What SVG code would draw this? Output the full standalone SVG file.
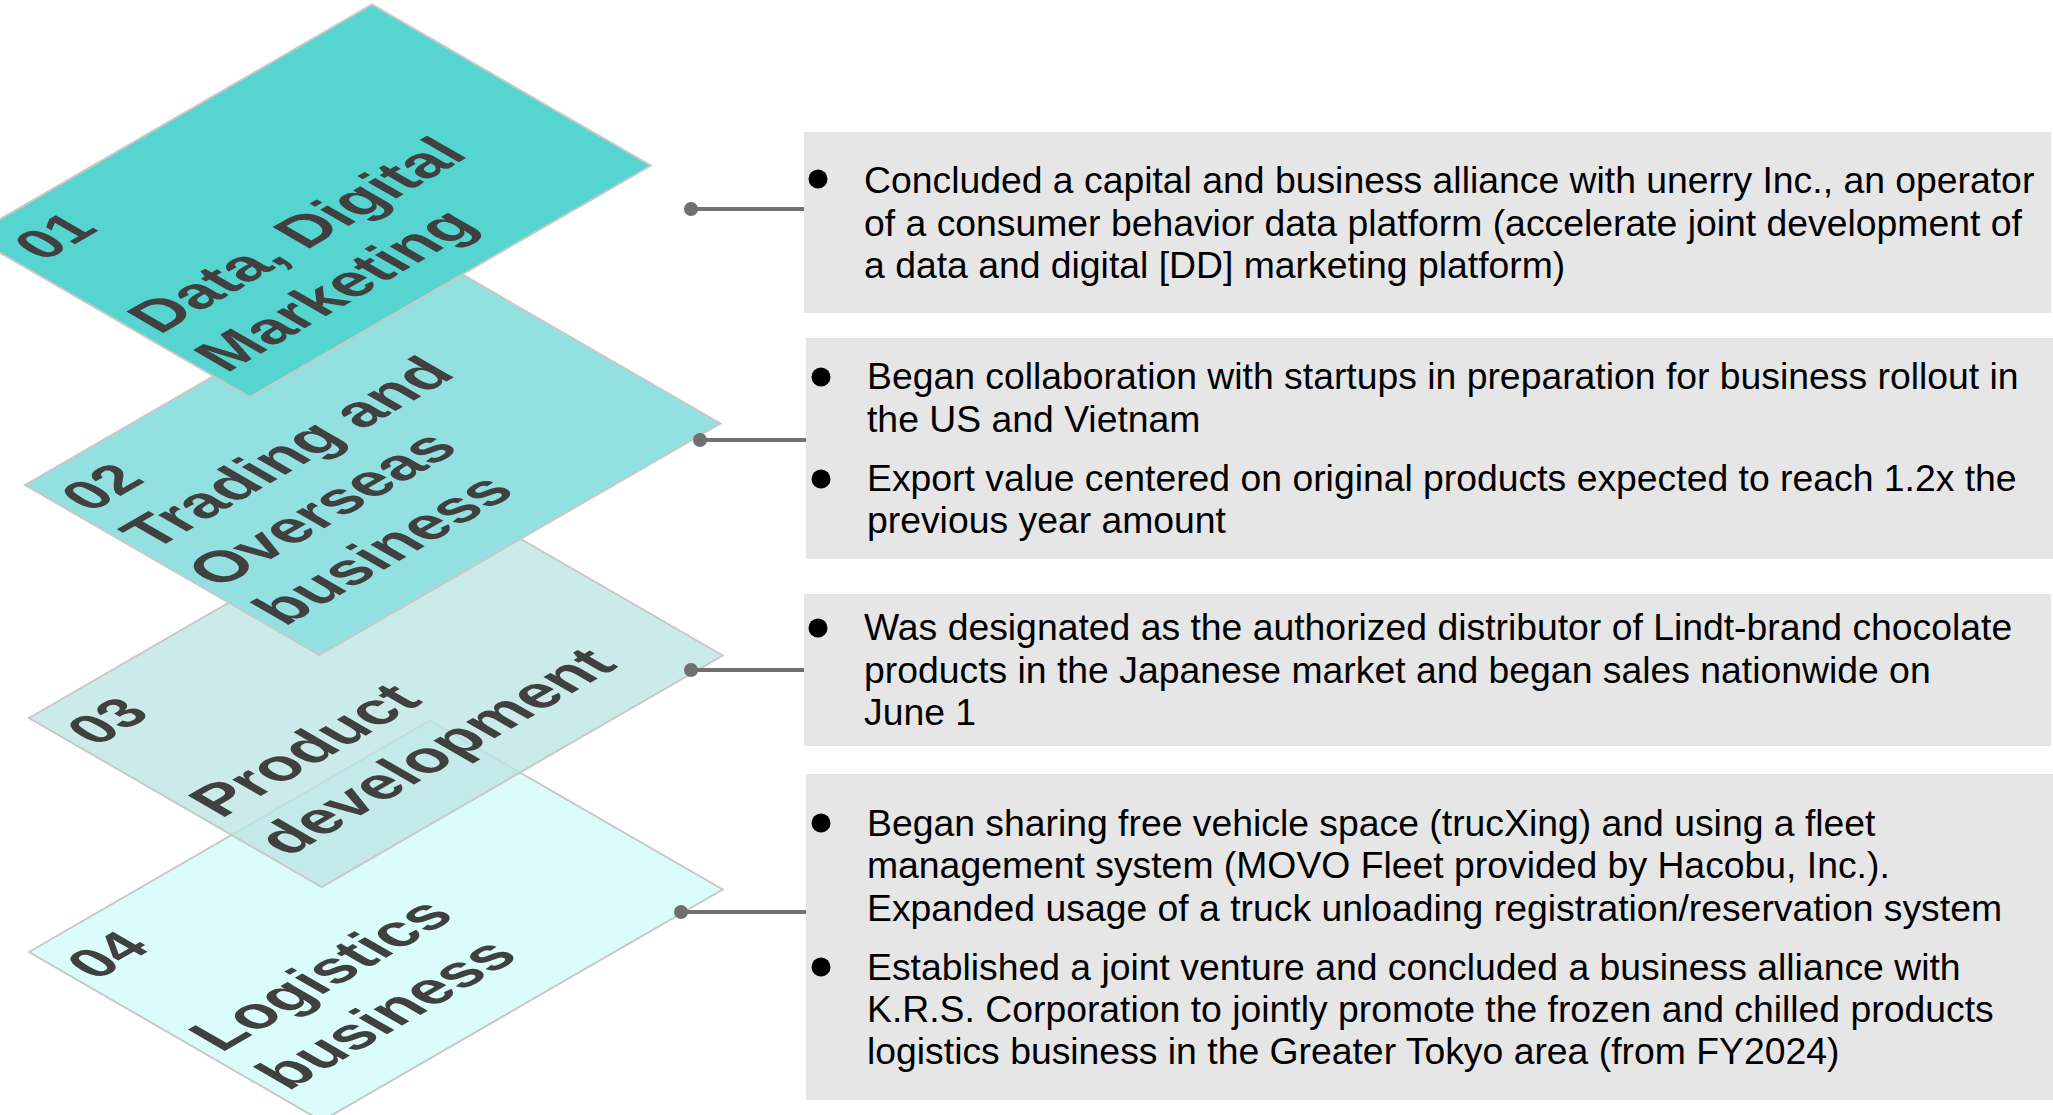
<svg xmlns="http://www.w3.org/2000/svg" width="2053" height="1115" viewBox="0 0 2053 1115">
  <style>
    .plate { stroke: #c8c8c8; stroke-width: 2; }
    .num { font-family: "Liberation Sans", Arial, sans-serif; font-weight: bold; font-size: 58px; fill: #404040; }
    .lbl { font-family: "Liberation Sans", Arial, sans-serif; font-weight: bold; font-size: 62px; fill: #404040; }
    .panel { fill: #e6e6e6; }
    .body { font-family: "Liberation Sans", Arial, sans-serif; font-size: 37.33px; fill: #000000; }
    .bullet { fill: #000000; }
    .link { stroke: #707070; stroke-width: 4; fill: none; }
    .dot { fill: #707070; }
  </style>

  <!-- isometric plates, bottom to top; each group maps a flat card onto the slanted plane -->
  <g id="node-04" transform="matrix(0.866 -0.5 0.866 0.5 29 952)">
    <rect class="plate" x="0" y="0" width="463" height="338" fill="#dafcfa" vector-effect="non-scaling-stroke"/>
    <text class="num" x="10" y="68">04</text>
    <text class="lbl" x="10" y="212">Logistics</text>
    <text class="lbl" x="10" y="289">business</text>
  </g>

  <g id="node-03" transform="matrix(0.866 -0.5 0.866 0.5 29 718)">
    <rect class="plate" x="0" y="0" width="463" height="338" fill="#bde4e4" fill-opacity="0.78" vector-effect="non-scaling-stroke"/>
    <text class="num" x="10" y="68">03</text>
    <text class="lbl" x="10" y="212">Product</text>
    <text class="lbl" x="10" y="289">development</text>
  </g>

  <g id="node-02" transform="matrix(0.866 -0.5 0.866 0.5 25 485)">
    <rect class="plate" x="0" y="0" width="463" height="340" fill="#92e0df" vector-effect="non-scaling-stroke"/>
    <text class="num" x="10" y="66">02</text>
    <text class="lbl" x="8" y="140">Trading and</text>
    <text class="lbl" x="8" y="216">Overseas</text>
    <text class="lbl" x="8" y="292">business</text>
  </g>

  <g id="node-01" transform="matrix(0.866 -0.5 0.866 0.5 -29 236)">
    <rect class="plate" x="0" y="0" width="463" height="322" fill="#55d4d0" vector-effect="non-scaling-stroke"/>
    <text class="num" x="16" y="68">01</text>
    <text class="lbl" x="10" y="208">Data, Digital</text>
    <text class="lbl" x="10" y="285">Marketing</text>
  </g>

  <!-- description panels -->
  <g id="panel-01">
    <rect class="panel" x="804" y="132" width="1247" height="181"/>
    <circle class="bullet" cx="818" cy="179" r="9.5"/>
    <text class="body" x="864" y="193">Concluded a capital and business alliance with unerry Inc., an operator</text>
    <text class="body" x="864" y="235.5">of a consumer behavior data platform (accelerate joint development of</text>
    <text class="body" x="864" y="278">a data and digital [DD] marketing platform)</text>
  </g>

  <g id="panel-02">
    <rect class="panel" x="806" y="338" width="1247" height="221"/>
    <circle class="bullet" cx="821" cy="377" r="9.5"/>
    <text class="body" x="867" y="389">Began collaboration with startups in preparation for business rollout in</text>
    <text class="body" x="867" y="432">the US and Vietnam</text>
    <circle class="bullet" cx="821" cy="479" r="9.5"/>
    <text class="body" x="867" y="491">Export value centered on original products expected to reach 1.2x the</text>
    <text class="body" x="867" y="533">previous year amount</text>
  </g>

  <g id="panel-03">
    <rect class="panel" x="804" y="594" width="1247" height="152"/>
    <circle class="bullet" cx="818" cy="628" r="9.5"/>
    <text class="body" x="864" y="640">Was designated as the authorized distributor of Lindt-brand chocolate</text>
    <text class="body" x="864" y="682.5">products in the Japanese market and began sales nationwide on</text>
    <text class="body" x="864" y="725">June 1</text>
  </g>

  <g id="panel-04">
    <rect class="panel" x="806" y="774" width="1247" height="326"/>
    <circle class="bullet" cx="821" cy="823" r="9.5"/>
    <text class="body" x="867" y="836">Began sharing free vehicle space (trucXing) and using a fleet</text>
    <text class="body" x="867" y="878">management system (MOVO Fleet provided by Hacobu, Inc.).</text>
    <text class="body" x="867" y="920.5">Expanded usage of a truck unloading registration/reservation system</text>
    <circle class="bullet" cx="821" cy="967" r="9.5"/>
    <text class="body" x="867" y="979.5">Established a joint venture and concluded a business alliance with</text>
    <text class="body" x="867" y="1022">K.R.S. Corporation to jointly promote the frozen and chilled products</text>
    <text class="body" x="867" y="1064">logistics business in the Greater Tokyo area (from FY2024)</text>
  </g>

  <!-- connectors from plates to panels -->
  <g id="connectors">
    <line class="link" x1="691" y1="209" x2="804" y2="209"/>
    <circle class="dot" cx="691" cy="209" r="7"/>
    <line class="link" x1="700" y1="440" x2="806" y2="440"/>
    <circle class="dot" cx="700" cy="440" r="7"/>
    <line class="link" x1="691" y1="670" x2="804" y2="670"/>
    <circle class="dot" cx="691" cy="670" r="7"/>
    <line class="link" x1="681" y1="912" x2="806" y2="912"/>
    <circle class="dot" cx="681" cy="912" r="7"/>
  </g>
</svg>
